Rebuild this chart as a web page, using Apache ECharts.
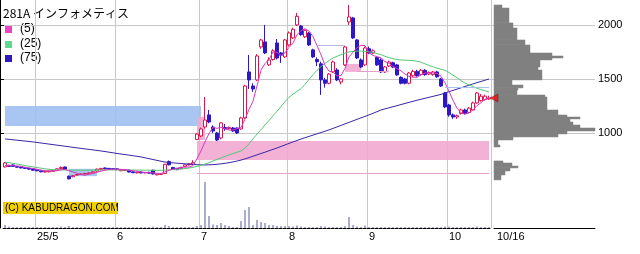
<!DOCTYPE html>
<html><head><meta charset="utf-8">
<script src="https://cdn.jsdelivr.net/npm/echarts@6.0.0/dist/echarts.min.js"></script>
<style>html,body{margin:0;padding:0;background:#fff}#c{width:640px;height:254px}</style>
</head><body><div id="c"></div><script>
// ---- data ----
const tradingDays = [
  ['2025-04', [18,21,22,23,24,25,28,30]],
  ['2025-05', [1,2,7,8,9,12,13,14,15,16,19,20,21,22,23,26,27,28,29,30]],
  ['2025-06', [2,3,4,5,6,9,10,11,12,13,16,17,18,19,20,23,24,25,26,27,30]],
  ['2025-07', [1,2,3,4,7,8,9,10,11,14,15,16,17,18,22,23,24,25,28,29,30,31]],
  ['2025-08', [1,4,5,6,7,8,12,13,14,15,18,19,20,21,22,25,26,27,28,29]],
  ['2025-09', [1,2,3,4,5,8,9,10,11,12,16,17,18,19,22,24,25,26,29,30]],
  ['2025-10', [1,2,3,6,7,8,9,10,14,15,16]]
];
const tickLabelText = ['25/5','6','7','8','9','10','10/16'];
const priceTicks = [1000, 1500, 2000];

const openP = [685,700,704,690,683,678,672,668,660,650, 638,640,645,655,670,685,600,595,610,615,
 620,622,630,648,660,676,672,670,668,650, 652,655,640,630,638,630,636,655,612,615,
 625,735,680,672,670,690,705,712,940,972, 1055,1167,1055,1000,954,1050,1040,1046,1046,1037,
 1139,1565,1435,1491,1796,1843,1630,1680,1833,1741, 1704,1815,1880,2000,1990,1890,1926,1769,1680,1640,
 1491,1460,1565,1583,1472,1630,2028,2065,1861,1676, 1630,1780,1740,1700,1676,1565,1620,1650,1630,1515,
 1500,1460,1530,1570,1540,1580,1545,1540,1565,1500, 1370,1259,1167,1148,1180,1213,1190,1213,1278,1300,
 1310,1315];
const closeP = [722,690,690,683,676,672,665,655,650,640, 645,648,655,668,680,665,575,605,615,620,
 625,630,640,665,672,668,665,662,660,658, 660,638,632,636,630,635,628,620,620,622,
 710,705,665,660,680,705,715,725,990,1037, 1120,1102,1018,935,1093,1040,1050,1018,1000,1139,
 1435,1491,1407,1713,1861,1741,1676,1760,1694,1720, 1861,1926,1960,2080,1910,1950,1815,1704,1660,1491,
 1460,1545,1657,1491,1500,1796,2074,1880,1694,1611, 1787,1740,1760,1630,1565,1611,1657,1610,1537,1460,
 1460,1555,1570,1530,1580,1540,1560,1565,1520,1435, 1241,1167,1148,1160,1213,1180,1230,1278,1370,1340,
 1340,1324];
const lowP = [680,685,686,678,672,668,660,650,645,636, 634,636,642,652,665,660,570,590,605,610,
 616,618,626,644,655,664,660,658,656,646, 648,634,628,626,626,626,624,616,608,612,
 620,700,660,655,665,686,700,708,935,960, 1040,1090,1000,925,940,1020,1030,1010,990,1030,
 1130,1407,1380,1480,1780,1730,1620,1670,1680,1648, 1695,1800,1870,1990,1900,1880,1805,1695,1620,1352,
 1420,1450,1555,1480,1450,1620,2000,1870,1685,1600, 1620,1730,1730,1620,1555,1555,1610,1600,1530,1450,
 1450,1450,1520,1520,1530,1530,1535,1530,1510,1425, 1230,1150,1130,1130,1170,1170,1180,1205,1270,1290,
 1300,1305];
const highP = [731,705,708,694,688,682,676,670,662,652, 648,652,658,672,690,688,605,610,620,624,
 630,634,645,670,676,680,676,674,672,662, 664,660,644,640,642,638,640,660,624,626,
 715,745,686,676,684,710,720,748,1000,1050, 1333,1213,1070,1010,1100,1083,1060,1055,1050,1150,
 1445,1722,1460,1730,1870,2000,1700,1775,1870,1750, 1870,1940,1975,2111,2000,1960,1935,1780,1700,1660,
 1510,1555,1670,1600,1510,1810,2185,2075,1870,1690, 1800,1800,1775,1710,1690,1620,1670,1660,1640,1525,
 1510,1565,1585,1585,1590,1590,1570,1575,1575,1510, 1380,1270,1180,1170,1225,1225,1240,1290,1380,1360,
 1355,1345];
const volume = [30,15,10,10,10,10,10,10,10,10, 10,10,10,10,15,10,20,10,10,10,
 10,10,10,10,10,10,10,10,10,10, 10,10,10,10,10,10,10,15,10,10,
 30,20,10,10,10,10,10,10,20,30, 460,120,35,30,50,30,20,10,10,70,
 180,210,30,80,60,50,30,30,20,20, 20,20,15,25,15,10,10,10,10,20,
 15,10,10,10,10,20,110,30,15,10, 25,10,10,10,10,10,10,10,10,10,
 10,10,10,10,10,10,10,10,10,10, 15,15,10,10,10,10,10,10,15,10,
 10,10];
const ma5 = [700,698,696,694,692,682,677,670,664,656, 651,648,648,651,659,663,649,639,628,616,
 608,619,626,636,646,655,662,666,665,663, 661,656,650,645,639,634,632,630,627,625,
 640,655,664,672,684,683,685,697,763,834, 917,995,1053,1042,1054,1038,1027,1027,1040,1049,
 1128,1217,1294,1437,1581,1643,1680,1750,1746,1718, 1742,1792,1832,1909,1947,1965,1943,1892,1808,1724,
 1626,1572,1563,1529,1531,1598,1704,1748,1789,1811, 1809,1742,1718,1706,1696,1661,1645,1615,1596,1575,
 1545,1524,1516,1515,1539,1555,1556,1555,1553,1524, 1464,1386,1302,1230,1186,1174,1186,1212,1254,1280,
 1312,1330];
const ma25 = [731,725,718,712,705,698,692,686,680,674, 668,664,660,658,657,657,656,655,655,655,
 655,655,656,656,657,657,658,658,658,658, 658,657,657,656,656,655,655,654,654,654,
 656,658,660,663,666,670,675,682,690,700, 712,726,740,755,769,783,797,810,822,834,
 860,900,945,990,1030,1075,1115,1160,1200,1245, 1290,1330,1360,1385,1410,1450,1495,1540,1580,1615,
 1645,1670,1694,1710,1725,1738,1750,1755,1758,1758, 1755,1752,1745,1735,1725,1710,1698,1688,1680,1676,
 1674,1672,1670,1664,1655,1640,1625,1612,1600,1590, 1580,1560,1535,1512,1485,1462,1445,1428,1414,1402,
 1390,1380];
const ma75 = [945,941,937,933,929,925,921,917,912,907, 902,897,892,887,882,877,872,867,862,857,
 852,848,843,838,833,828,822,816,810,805, 800,795,789,784,778,770,762,754,746,738,
 731,727,723,720,717,714,711,708,706,704, 704,705,707,710,714,719,725,732,740,749,
 760,772,785,797,810,822,835,848,861,875, 889,903,917,930,944,956,968,980,992,1004,
 1016,1028,1042,1056,1070,1084,1098,1112,1126,1140, 1153,1167,1182,1197,1213,1223,1233,1243,1253,1263,
 1273,1283,1293,1303,1312,1321,1330,1339,1348,1357, 1370,1382,1394,1406,1418,1430,1442,1454,1466,1477,
 1488,1500];
// price-by-volume profile (price bin low, bin high, relative volume)
const profileLow  = [2157,2019,1972,1861,1815,1741,1713,1694,1676,1611,1583,1491,1444,1417,1398,1352,1333,1213,1167,1148,1130,1102,1074,1046,1018,991,963,935,889,870,722,694,676,648,611,565];
const profileHigh = [2185,2157,2019,1972,1861,1815,1741,1713,1694,1676,1611,1583,1491,1444,1417,1398,1352,1333,1213,1167,1148,1130,1102,1074,1046,1018,991,963,935,889,741,722,694,676,648,611];
const profileVol  = [8,15,19,23,31,36,58,69,58,46,44,48,18,29,24,23,51,53,64,73,86,76,79,86,101,73,64,19,4,6,9,18,24,16,11,7];
// shaded zones: [fromIndex, toIndex, priceLow, priceHigh, kind]
const zones = [[0,49,1065,1250,'blue'],[48,121,750,926,'pink'],[16,23,600,668,'blue'],[85,89,1565,1639,'pink'],[48,50,935,1150,'pink']];
// horizontal marker lines: [fromIndex, toIndex, price, kind]
const gapLines = [[48,121,630,'pink'],[78,85,1815,'purple'],[88,96,1574,'pink'],[110,121,1426,'blue']];

// ---- build ----
const categories = [];
const monthStart = [];
tradingDays.forEach(([m, days], mi) => {
  if (mi > 0) monthStart.push(categories.length);
  days.forEach(d => categories.push(m + '-' + String(d).padStart(2,'0')));
});
const labelIdx = monthStart.concat([categories.length - 1]);
const labelMap = {};
labelIdx.forEach((ix, k) => labelMap[ix] = tickLabelText[k]);
const lastIdx = categories.length - 1;

const zoneColor = {blue:'rgba(160,192,242,0.9)', pink:'rgba(242,168,208,0.9)'};
const lineColor = {pink:'#e8a0c8', purple:'#b8b8e4', blue:'#a8c4ec'};

const candleData = categories.map((c,i)=>[openP[i], closeP[i], lowP[i], highP[i]]);

const FONT = '"Liberation Sans", Arial, sans-serif';
const chart = echarts.init(document.getElementById('c'), null, {renderer:'canvas'});
chart.setOption({
  animation:false,
  backgroundColor:'#ffffff',
  grid:[
    {left:0, right:45, top:0, bottom:26},
    {left:3, width:488, top:0, bottom:26},
    {left:3, width:488, top:180, bottom:26},
    {left:494, right:45, top:0, bottom:26}
  ],
  xAxis:[
    {type:'value', gridIndex:0, min:0, max:1, show:false},
    {type:'category', gridIndex:1, data:categories, boundaryGap:true,
     axisLine:{show:false}, axisTick:{show:false},
     axisLabel:{interval:(i)=>labelMap[i]!==undefined, color:'#000', fontSize:11, fontFamily:FONT, align:'left', margin:3,
       formatter:(v,i)=> i===lastIdx ? '{e|'+labelMap[i]+'}' : labelMap[i],
       rich:{e:{padding:[0,0,0,8], fontSize:11, fontFamily:FONT, color:'#000'}}},
     splitLine:{show:true, interval:(i)=>monthStart.indexOf(i)>=0, lineStyle:{color:'#c8c8c8', width:1}}},
    {type:'category', gridIndex:2, data:categories, boundaryGap:true,
     axisLine:{show:true, lineStyle:{color:'#000', type:[3,1], width:1}}, axisTick:{show:false}, axisLabel:{show:false}, splitLine:{show:false}},
    {type:'value', gridIndex:3, min:0, max:101, axisLine:{show:true, lineStyle:{color:'#000'}}, axisTick:{show:false}, axisLabel:{show:false}, splitLine:{show:false}}
  ],
  yAxis:[
    {type:'value', gridIndex:0, min:120, max:2231, position:'right',
     axisLine:{show:true, lineStyle:{color:'#000'}},
     axisTick:{show:true, length:4, customValues:priceTicks, lineStyle:{color:'#000'}},
     axisLabel:{show:true, customValues:priceTicks, color:'#000', fontSize:11, fontFamily:FONT, margin:3, formatter:(v)=>String(v)},
     splitLine:{show:true, lineStyle:{color:'#c8c8c8', width:1}}},
    {type:'value', gridIndex:1, min:120, max:2231, show:false},
    {type:'value', gridIndex:2, min:0, max:480, show:false},
    {type:'value', gridIndex:3, min:120, max:2231, show:false}
  ],
  series:[
    {type:'line', xAxisIndex:1, yAxisIndex:1, data:categories.map(()=>null), z:1, silent:true,
     markArea:{silent:true, data: zones.map(z=>[
       {xAxis:categories[z[0]], yAxis:z[2], itemStyle:{color:zoneColor[z[4]]}},
       {xAxis:categories[z[1]], yAxis:z[3]}])},
     markLine:{silent:true, symbol:'none', label:{show:false}, data: gapLines.map(g=>[
       {coord:[categories[g[0]], g[2]], lineStyle:{color:lineColor[g[3]], width:1, type:'solid'}},
       {coord:[categories[g[1]], g[2]]}])}
    },
    {type:'bar', xAxisIndex:2, yAxisIndex:2, data:volume, barWidth:1, itemStyle:{color:'#5a5aa0'}, z:2, silent:true},
    {type:'candlestick', xAxisIndex:1, yAxisIndex:1, data:candleData, barWidth:3, z:3, silent:true,
     itemStyle:{color:'#ffffff', color0:'#2c18c8', borderColor:'#d81850', borderColor0:'#2c18c8', borderWidth:1}},
    {type:'line', xAxisIndex:1, yAxisIndex:1, data:ma75, showSymbol:false, z:4, silent:true, lineStyle:{color:'#3828a8', width:1}},
    {type:'line', xAxisIndex:1, yAxisIndex:1, data:ma25, showSymbol:false, z:4, silent:true, lineStyle:{color:'#58c878', width:1}},
    {type:'line', xAxisIndex:1, yAxisIndex:1, data:ma5, showSymbol:false, z:4, silent:true, lineStyle:{color:'#d838c0', width:1}},
    {type:'custom', xAxisIndex:3, yAxisIndex:3, silent:true, z:2,
     data: profileLow.map((lo,i)=>[lo, profileHigh[i], profileVol[i]]),
     encode:{x:2, y:[0,1]},
     renderItem:(params, api)=>{
       const lo=api.value(0), hi=api.value(1), v=api.value(2);
       const a=api.coord([0,hi]), b=api.coord([v,lo]);
       return {type:'rect', shape:{x:a[0], y:a[1], width:b[0]-a[0], height:b[1]-a[1]}, style:{fill:'#808080', stroke:'#808080', lineWidth:0.5}};
     }},
    {type:'scatter', xAxisIndex:3, yAxisIndex:3, silent:true, z:5,
     data:[[0, closeP[lastIdx]]], symbol:'triangle', symbolRotate:90, symbolSize:[8,8],
     itemStyle:{color:'#e81010', borderColor:'#700000', borderWidth:0.5}}
  ],
  graphic:[
    {type:'text', left:3, top:7, style:{text:'281A インフォメティス', fontSize:12, fontFamily:'"Noto Sans CJK JP", sans-serif', fill:'#000'}},
    {type:'rect', left:5, top:26, shape:{width:7,height:7}, style:{fill:'#f040c8'}},
    {type:'text', left:20, top:23, style:{text:'(5)', fontSize:12, fontFamily:FONT, fill:'#000'}},
    {type:'rect', left:5, top:41, shape:{width:7,height:7}, style:{fill:'#60d890'}},
    {type:'text', left:20, top:38, style:{text:'(25)', fontSize:12, fontFamily:FONT, fill:'#000'}},
    {type:'rect', left:5, top:55, shape:{width:7,height:7}, style:{fill:'#3018c0'}},
    {type:'text', left:20, top:52, style:{text:'(75)', fontSize:12, fontFamily:FONT, fill:'#000'}},
    {type:'rect', left:3, top:202, shape:{width:115,height:12}, style:{fill:'#f0d000'}},
    {type:'text', left:5, top:203, style:{text:'(C) KABUDRAGON.COM', fontSize:10, fontFamily:FONT, fill:'#000'}}
  ]
});
</script></body></html>
